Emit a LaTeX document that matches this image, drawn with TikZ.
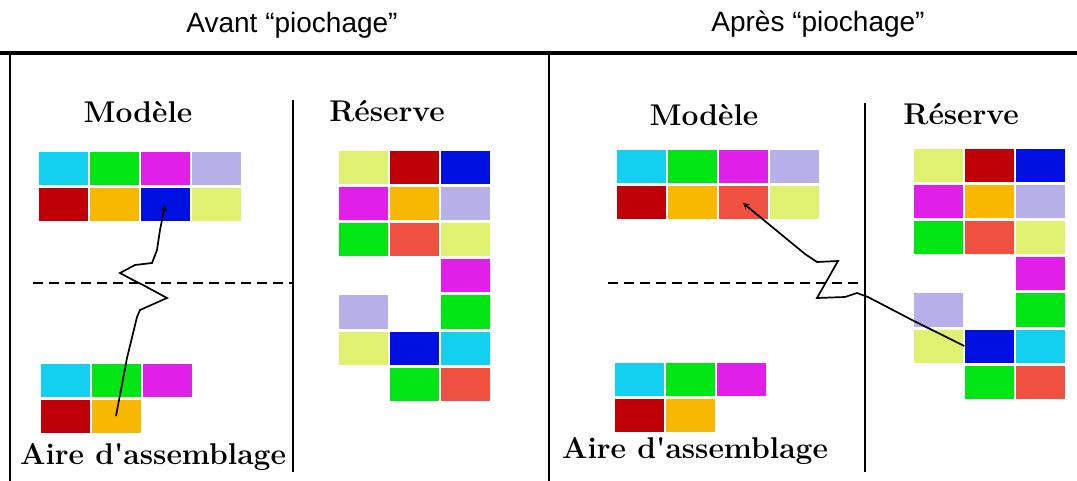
\documentclass[tikz,border=0pt]{standalone}
\usepackage{fontspec}
\usepackage{xcolor}
\usepackage{tikz}
\newfontfamily\titlefont{Liberation Sans}

\definecolor{cyanT}{HTML}{14D0F0}
\definecolor{vertT}{HTML}{00E614}
\definecolor{magentaT}{HTML}{E020E8}
\definecolor{lavandeT}{HTML}{B8B0E8}
\definecolor{rougeT}{HTML}{C00008}
\definecolor{orangeT}{HTML}{F8B800}
\definecolor{bleuT}{HTML}{0010E0}
\definecolor{jauneT}{HTML}{E0F070}
\definecolor{saumonT}{HTML}{F05040}

\tikzset{
	case/.style={rectangle, inner sep=0pt, minimum width=49pt, minimum height=33pt},
	titre/.style={font=\titlefont\fontsize{28}{30}\selectfont},
	etiquette/.style={font=\bfseries\fontsize{30}{34}\selectfont},
	piochage/.style={-stealth, line width=1.7pt},
}

\begin{document}
\begin{tikzpicture}[x=1pt, y=-1pt]
			\def\DX{51};
			\def\DY{36};

			\def\modeleAvant{0/0/cyanT, 1/0/vertT, 2/0/magentaT, 3/0/lavandeT, 0/1/rougeT, 1/1/orangeT, 2/1/bleuT, 3/1/jauneT};
			\def\modeleApres{0/0/cyanT, 1/0/vertT, 2/0/magentaT, 3/0/lavandeT, 0/1/rougeT, 1/1/orangeT, 2/1/saumonT, 3/1/jauneT};
			\def\aire{0/0/cyanT, 1/0/vertT, 2/0/magentaT, 0/1/rougeT, 1/1/orangeT};
			\def\reserve{0/0/jauneT, 1/0/rougeT, 2/0/bleuT, 0/1/magentaT, 1/1/orangeT, 2/1/lavandeT, 0/2/vertT, 1/2/saumonT, 2/2/jauneT, 2/3/magentaT, 0/4/lavandeT, 2/4/vertT, 0/5/jauneT, 1/5/bleuT, 2/5/cyanT, 1/6/vertT, 2/6/saumonT};

			\useasboundingbox (0,0) rectangle (1077,481);

			\begin{scope}
				\node [titre] (tAvant) at (292,25) {Avant “piochage”};
				\node [titre] (tApres) at (818,24) {Après “piochage”};

				\draw [line width=4pt] (0,53) -- (1077,53);
				\draw [line width=2.4pt] (10,53) -- (10,481);
				\draw [line width=2.4pt] (549,53) -- (549,481);

				\draw [line width=1.5pt] (293,100) -- (293,472);
				\draw [line width=1.5pt] (865,103) -- (865,472);
				\draw [dash pattern=on 10pt off 6pt, line width=1.5pt] (33,283) -- (293,283);
				\draw [dash pattern=on 10pt off 6pt, line width=1.5pt] (608,283) -- (865,283);
			\end{scope}

			\begin{scope}
				\node [etiquette] (lmA) at (138,112) {Modèle};
				\node [etiquette] (lrA) at (387,111) {Réserve};
				\node [etiquette] (laA) at (153,457) {Aire d\textquotesingle assemblage};

				\foreach \c/\r/\couleur in \modeleAvant
				{
					\node [case, fill=\couleur] (mA-\c-\r) at (63+\c*\DX, 169+\r*\DY) {};
				}
				\foreach \c/\r/\couleur in \aire
				{
					\node [case, fill=\couleur] (aA-\c-\r) at (65+\c*\DX, 380+\r*\DY) {};
				}
				\foreach \c/\r/\couleur in \reserve
				{
					\node [case, fill=\couleur] (rA-\c-\r) at (363+\c*\DX, 168+\r*\DY) {};
				}

				\draw [piochage] (aA-1-1.center) -- (127,358) -- (137,317) -- (140,310) -- (158,302) -- (167,298) -- (143,285) -- (133,280) -- (120,273) -- (135,265) -- (152,263) -- (157,250) -- (160,230) -- (mA-2-1.center);
			\end{scope}

			\begin{scope}
				\node [etiquette] (lmP) at (704,115) {Modèle};
				\node [etiquette] (lrP) at (961,114) {Réserve};
				\node [etiquette] (laP) at (695,451) {Aire d\textquotesingle assemblage};

				\foreach \c/\r/\couleur in \modeleApres
				{
					\node [case, fill=\couleur] (mP-\c-\r) at (641+\c*\DX, 167+\r*\DY) {};
				}
				\foreach \c/\r/\couleur in \aire
				{
					\node [case, fill=\couleur] (aP-\c-\r) at (639+\c*\DX, 379+\r*\DY) {};
				}
				\foreach \c/\r/\couleur in \reserve
				{
					\node [case, fill=\couleur] (rP-\c-\r) at (938+\c*\DX, 166+\r*\DY) {};
				}

				\draw [piochage] (rP-1-5.west) -- (912,320) -- (868,297) -- (857,293) -- (845,297) -- (817,298) -- (838,261) -- (817,262) -- (805,254) -- (mP-2-1.center);
			\end{scope}
		\end{tikzpicture}
\end{document}
